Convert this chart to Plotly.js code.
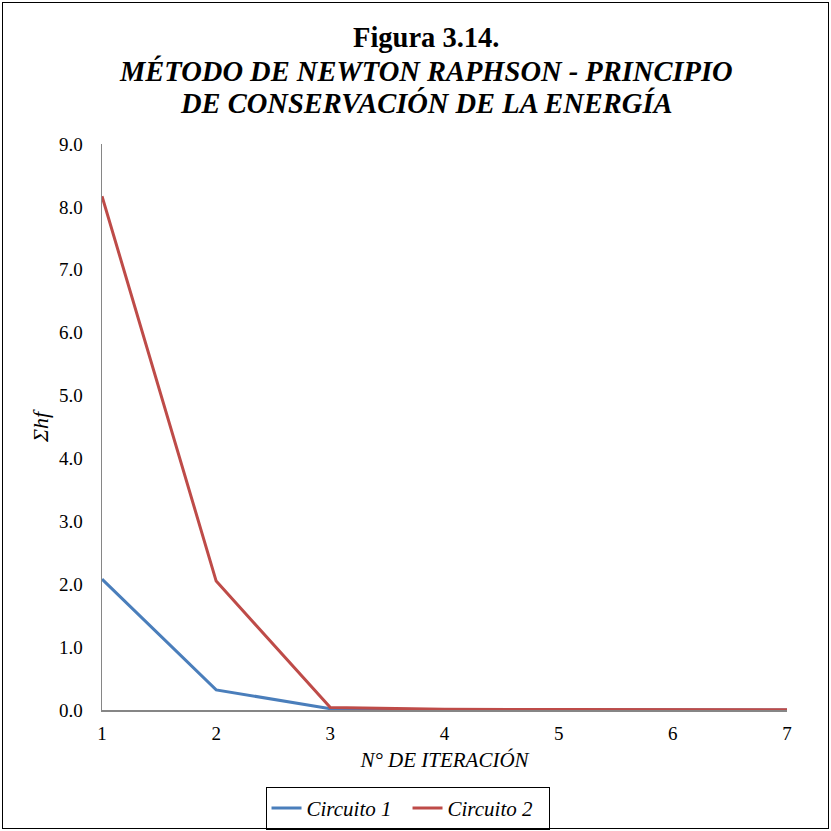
<!DOCTYPE html>
<html>
<head>
<meta charset="utf-8">
<script src="https://cdn.plot.ly/plotly-3.0.1.min.js"></script>
<style>
  html, body { margin: 0; padding: 0; background: #fff; }
  #wrap { position: relative; width: 831px; height: 831px; }
  #chart { width: 831px; height: 831px; }
  #frame { position: absolute; left: 2px; top: 2px; width: 825px; height: 825px; border: 1px solid #000; pointer-events: none; }
</style>
</head>
<body>
<div id="wrap">
  <div id="chart"></div>
  <div id="frame"></div>
</div>
<script>
const iteraciones = [1, 2, 3, 4, 5, 6, 7];
const circuito1 = [2.08, 0.32, 0.02, 0.004, 0.003, 0.002, 0.001];
const circuito2 = [8.17, 2.05, 0.04, 0.01, 0.006, 0.004, 0.003];
const nombres = ["Circuito 1", "Circuito 2"];
const yTicks = [0, 1, 2, 3, 4, 5, 6, 7, 8, 9];
const tituloLineas = [
  "<b>Figura 3.14.</b>",
  "<b><i>MÉTODO DE NEWTON RAPHSON - PRINCIPIO</i></b>",
  "<b><i>DE CONSERVACIÓN DE LA ENERGÍA</i></b>"
];

const serif = "Liberation Serif, Times New Roman, serif";

const traces = [
  { x: iteraciones, y: circuito1, name: "<i>" + nombres[0] + "</i>", type: "scatter", mode: "lines",
    line: { color: "#4A7EBB", width: 3 } },
  { x: iteraciones, y: circuito2, name: "<i>" + nombres[1] + "</i>", type: "scatter", mode: "lines",
    line: { color: "#BE4B48", width: 3 } }
];

const titleY = [1.1873, 1.129, 1.0724];
const annotations = tituloLineas.map((t, i) => ({
  text: t, xref: "paper", yref: "paper", x: 0.473, y: titleY[i],
  xanchor: "center", yanchor: "middle", showarrow: false,
  font: { family: serif, size: 28.5, color: "#000" }
}));

const layout = {
  width: 831, height: 831,
  paper_bgcolor: "#fff", plot_bgcolor: "#fff",
  margin: { l: 102, r: 44, t: 144, b: 121 },
  font: { family: serif, color: "#000", size: 19 },
  annotations: annotations,
  xaxis: {
    range: [1, 7], tickvals: iteraciones, ticktext: iteraciones.map(String),
    showgrid: false, zeroline: false, showline: true, linecolor: "#868686", linewidth: 1.5,
    ticks: "outside", ticklen: 6, tickcolor: "rgba(0,0,0,0)",
    tickfont: { family: serif, size: 19, color: "#000" },
    title: { text: "<i>N° DE ITERACIÓN</i>", font: { family: serif, size: 21, color: "#000" }, standoff: 9 }
  },
  yaxis: {
    range: [0, 9], tickvals: yTicks, ticktext: yTicks.map(v => v.toFixed(1)),
    showgrid: false, zeroline: false, showline: true, linecolor: "#868686", linewidth: 1.5,
    ticks: "outside", ticklen: 14, tickcolor: "rgba(0,0,0,0)",
    tickfont: { family: serif, size: 19, color: "#000" },
    title: { text: "<i>Σhf</i>", font: { family: serif, size: 22, color: "#000" }, standoff: 4 }
  },
  showlegend: true,
  legend: {
    orientation: "h", xref: "container", yref: "container",
    x: 0.4904, xanchor: "center", y: 0.053, yanchor: "top",
    bordercolor: "#000", borderwidth: 1, bgcolor: "#fff",
    font: { family: serif, size: 21, color: "#000" },
    entrywidth: 96, entrywidthmode: "pixels",
    tracegroupgap: 0
  }
};

Plotly.newPlot("chart", traces, layout, { displayModeBar: false, staticPlot: true });
</script>
</body>
</html>
